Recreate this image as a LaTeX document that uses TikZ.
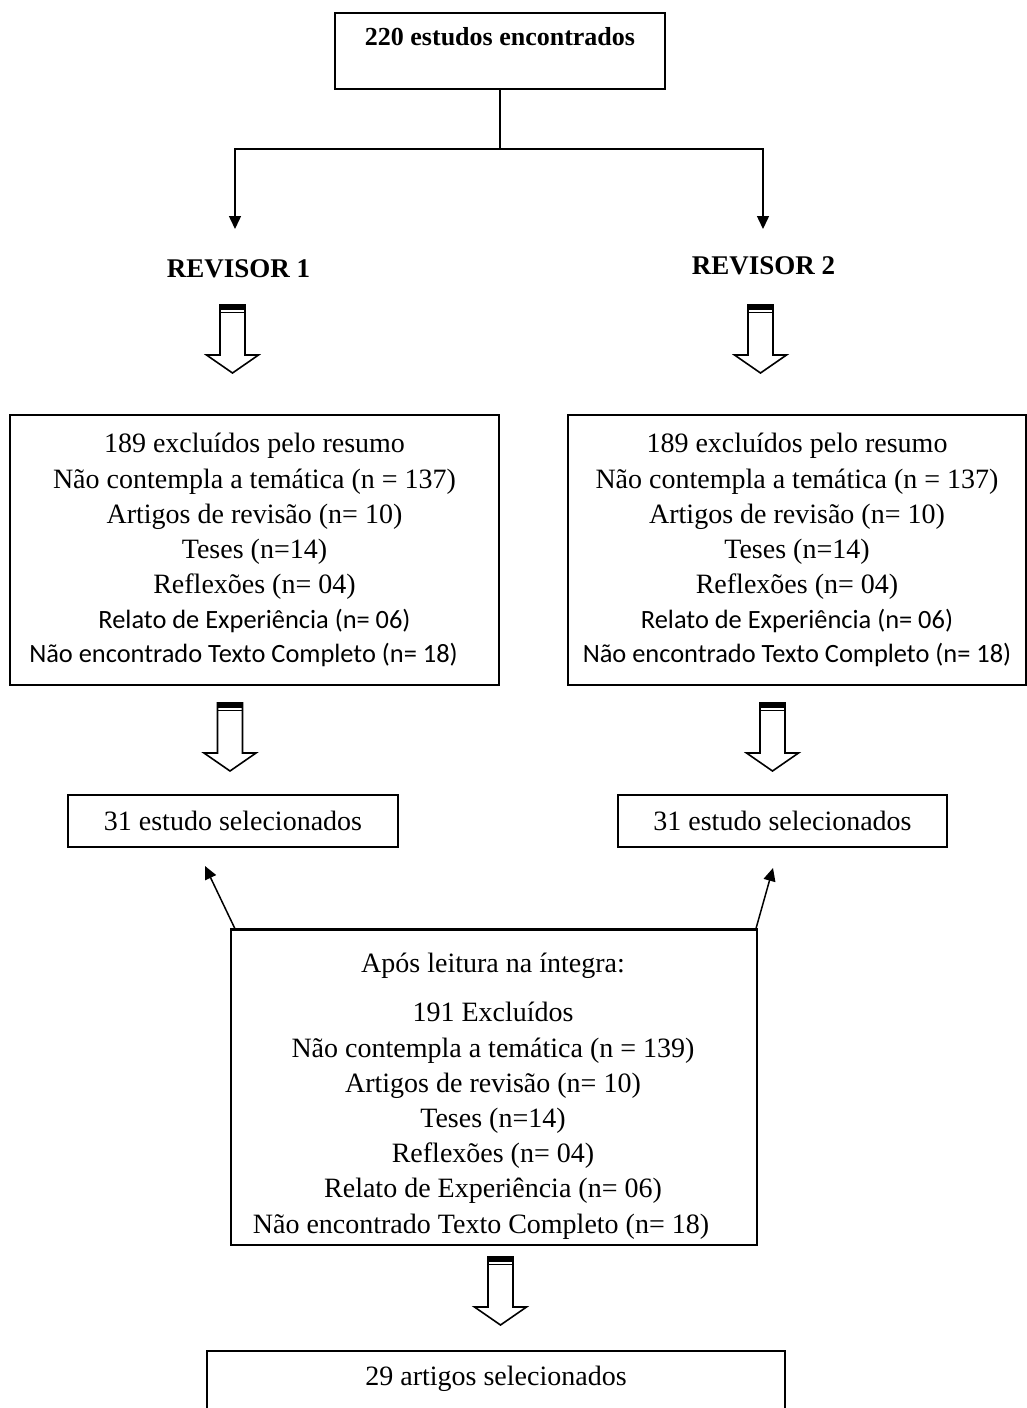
\documentclass[tikz,border=0pt]{standalone}
\usepackage{fontspec}
\setmainfont{Liberation Serif}
\newfontfamily\calib{Carlito}
\usetikzlibrary{arrows.meta}
\tikzset{
  box/.style={draw, line width=0.8pt, inner sep=0pt, align=center},
  body/.style={font=\fontsize{14}{17.6}\selectfont},
  conn/.style={line width=0.75pt},
  arr/.style={line width=0.75pt, -{Triangle[length=6.5pt,width=6pt]}},
  hollow/.pic={
    \draw[line width=0.8pt, line join=miter, fill=white]
      (-12.5,0) -- (-12.5,50) -- (-26,50) -- (0,68) -- (26,50) -- (12.5,50) -- (12.5,0) -- cycle;
    \fill (-12.5,0) rectangle (12.5,5);
    \draw[line width=0.6pt] (-12.5,7.5) -- (12.5,7.5);
  }
}
\newcommand{\sansline}[1]{{\calib\fontsize{13.2}{17.6}\selectfont #1}}
\begin{document}
\begin{tikzpicture}[x=0.5pt,y=-0.5pt]
\path[use as bounding box] (0,0) rectangle (1027,1408);
\clip (0,0) rectangle (1027,1408);

% top box
\node[box, minimum width=165pt, inner ysep=0pt, text height=16.5pt, text depth=21.5pt,
      font=\bfseries\fontsize{13}{16}\selectfont] (top) at (500,51) {220 estudos encontrados};

% reviewers
\node[anchor=base, font=\bfseries\fontsize{13.5}{16}\selectfont] (rev1) at (238.5,277) {REVISOR 1};
\node[anchor=base, font=\bfseries\fontsize{13.5}{16}\selectfont] (rev2) at (763.5,274) {REVISOR 2};

\coordinate (jn) at (500,149);
\coordinate (r1in) at (235,229);
\coordinate (r2in) at (763,229);
\draw[conn] (top.south) -- (jn);
\draw[arr] (jn) -| (r1in);
\draw[arr] (jn) -| (r2in);

% hollow arrows
\pic at (232.5,305) {hollow};
\pic at (760.5,305) {hollow};
\pic at (230,703) {hollow};
\pic at (772.5,703) {hollow};
\pic at (500.5,1257) {hollow};

% exclusion boxes
\node[box, body, minimum width=244.5pt, minimum height=135pt] (ex1) at (254.5,550) {%
189 excluídos pelo resumo\\
Não contempla a temática (n = 137)\\
Artigos de revisão (n= 10)\\
Teses (n=14)\\
Reflexões (n= 04)\\[-0.4pt]
\sansline{Relato de Experiência (n= 06)}\\[-0.4pt]
\sansline{Não encontrado Texto Completo (n= 18)}\hspace*{11pt}};

\node[box, body, minimum width=229pt, minimum height=135pt] (ex2) at (797,550) {%
189 excluídos pelo resumo\\
Não contempla a temática (n = 137)\\
Artigos de revisão (n= 10)\\
Teses (n=14)\\
Reflexões (n= 04)\\[-0.4pt]
\sansline{Relato de Experiência (n= 06)}\\[-0.4pt]
\sansline{Não encontrado Texto Completo (n= 18)}};

% selected boxes
\node[box, body, minimum width=165pt, minimum height=26pt] (sel1) at (233,821) {31 estudo selecionados};
\node[box, body, minimum width=164.5pt, minimum height=26pt] (sel2) at (782.5,821) {31 estudo selecionados};

% full-text box
\begin{scope}
\clip (231,930) rectangle (757,1242);
\node[body, align=center, inner sep=0pt] (exct) at (493,1096) {%
Após leitura na íntegra:\\[7.2pt]
191 Excluídos\\
Não contempla a temática (n = 139)\\
Artigos de revisão (n= 10)\\
Teses (n=14)\\
Reflexões (n= 04)\\
Relato de Experiência (n= 06)\\
Não encontrado Texto Completo (n= 18)\hspace*{12pt}};
\end{scope}
\node[box, minimum width=263pt, minimum height=157.5pt] (exc) at (494,1087.5) {};
\draw[line width=1.6pt] (exc.north west) -- (exc.north east);

\coordinate (a1) at (205,866);
\coordinate (a2) at (773,868);
\draw[arr] (exc.north west) ++(5,0) -- (a1);
\draw[arr] (exc.north east) ++(-2,0) -- (a2);

% final box
\node[box, body, minimum width=289pt, inner ysep=0pt, text height=17pt, text depth=32pt] (fin) at (496,1400) {29 artigos selecionados};
\end{tikzpicture}
\end{document}
